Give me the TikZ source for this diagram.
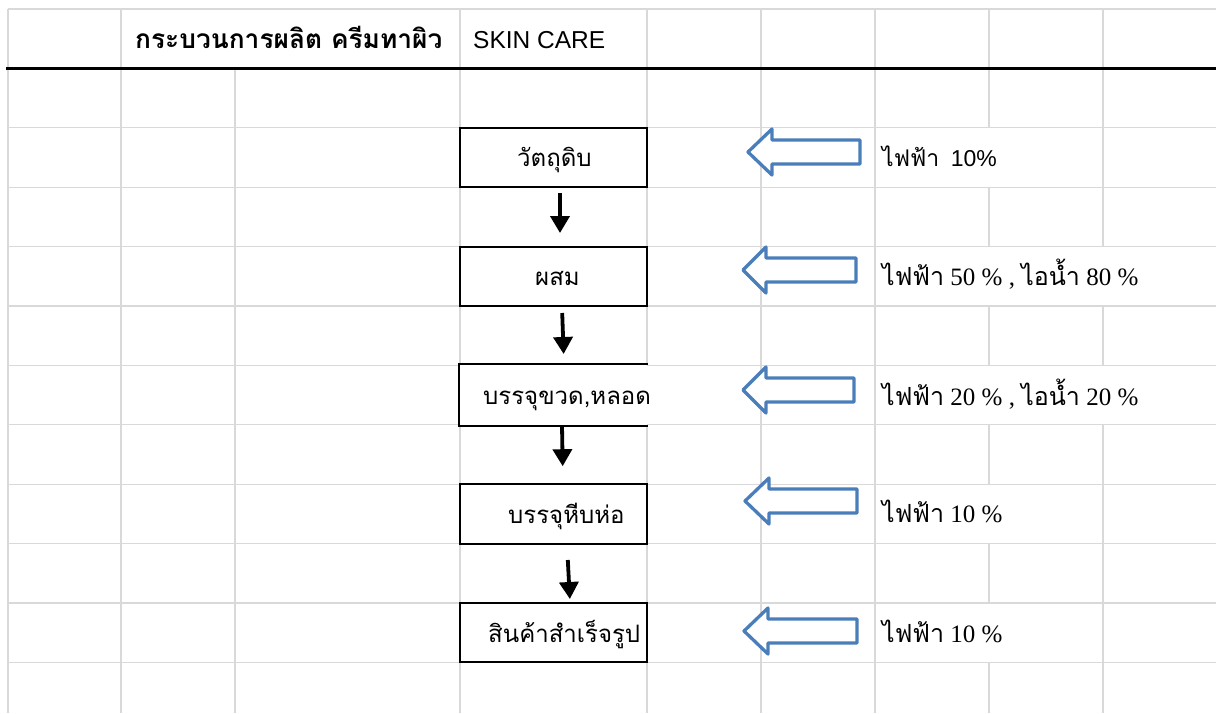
\documentclass[tikz,border=0pt]{standalone}
\usepackage{fontspec}
\setmainfont{Liberation Serif}
\newfontfamily\thai[Script=Thai]{Loma}
\newfontfamily\arial{Liberation Sans}
\usetikzlibrary{arrows.meta}
\definecolor{gridc}{HTML}{D9D9D9}
\definecolor{oblue}{HTML}{4A7EBB}
\tikzset{
  gridline/.style={draw=gridc, line width=1.3pt},
  boxnode/.style={draw, line width=2pt, fill=white, minimum width=187pt, minimum height=59.4pt, inner sep=0pt},
  boxtext/.style={anchor=base west, inner sep=0pt, font=\thai\fontsize{24}{24}\selectfont},
  lbl/.style={anchor=base west, inner sep=0pt, font=\fontsize{25}{25}\selectfont},
  flow/.style={line width=3.8pt, -{Triangle[width=19pt,length=17pt]}},
  barrow/.style={draw=oblue, fill=white, line width=3.3pt, line join=round},
}
\begin{document}
\begin{tikzpicture}[x=1pt,y=-1pt]
\fill[white] (0,0) rectangle (1216,713);
\useasboundingbox (0,0) rectangle (1216,713);
% horizontal grid lines
\foreach \k in {0,...,11} \draw[gridline] (8,{9+59.4*\k}) -- (1216,{9+59.4*\k});
% vertical grid lines, row by row
\foreach \k/\cols in {
  0/{8,121,460,647,761,875,989,1103},
  1/{8,121,235,460,647,761,875,989,1103},
  2/{8,121,235,761,875,1103},
  3/{8,121,235,460,647,761,875,989,1103},
  4/{8,121,235,761,875},
  5/{8,121,235,460,647,761,875,989,1103},
  6/{8,121,235,761,875},
  7/{8,121,235,460,647,761,875,989,1103},
  8/{8,121,235,761,875,1103},
  9/{8,121,235,460,647,761,875,989,1103},
  10/{8,121,235,761,875,1103},
  11/{8,121,235,460,647,761,875,989,1103}} {
  \foreach \c in \cols
    \draw[gridline] (\c,{9+59.4*\k}) -- (\c,{min(9+59.4*(\k+1),713)});
}
% header rule
\draw[line width=2.5pt] (6,68.4) -- (1216,68.4);
% header texts
\node[anchor=base west, inner sep=0pt, font=\thai\bfseries\fontsize{26.3}{26.3}\selectfont] (title) at (135,48) {กระบวนการผลิต ครีมทาผิว};
\node[anchor=base west, inner sep=0pt, font=\arial\fontsize{24.5}{24.5}\selectfont] (sub) at (473,48) {SKIN CARE};
% process boxes
\node[boxnode] (b1) at (553.5,157.5) {};
\node[boxnode] (b2) at (553.5,276.3) {};
\node[boxnode, draw=none] (b3) at (553.5,395.1) {};
\draw[line width=2pt] (b3.north east) -- (b3.north west) -- (b3.south west) -- (b3.south east);
\node[boxnode] (b4) at (553.5,513.9) {};
\node[boxnode] (b5) at (553.5,632.7) {};
\node[boxtext] (t1) at (517,166) {วัตถุดิบ};
\node[boxtext] (t2) at (535,285) {ผสม};
\node[boxtext] (t3) at (483,404) {บรรจุขวด,หลอด};
\node[boxtext] (t4) at (508,523) {บรรจุหีบห่อ};
\node[boxtext] (t5) at (488,642) {สินค้าสำเร็จรูป};
% flow arrows
\draw[flow, shorten <=5pt, shorten >=12.6pt] ([xshift=6.5pt]b1.south) -- ([xshift=6.5pt]b2.north);
\draw[flow, shorten <=6pt, shorten >=10.4pt] ([xshift=8.5pt]b2.south) -- ([xshift=10.5pt]b3.north);
\draw[flow, shorten <=1.2pt, shorten >=17pt] ([xshift=8.5pt]b3.south) -- ([xshift=9.5pt]b4.north);
\draw[flow, shorten <=15.4pt, shorten >=3pt] ([xshift=13.5pt]b4.south) -- ([xshift=16.5pt]b5.north);
% energy arrows (block arrows)
\foreach \tip/\cy/\hb/\rx in {748/152/772/860, 743/270/766/856, 743/390/766/854, 745/501/769/857, 744/631/768/857}
  \draw[barrow] (\tip,\cy) -- (\hb,\cy-23) -- (\hb,\cy-12) -- (\rx,\cy-12) -- (\rx,\cy+12) -- (\hb,\cy+12) -- (\hb,\cy+23) -- cycle;
% energy labels
\node[anchor=base west, inner sep=0pt, font=\fontsize{23}{23}\selectfont] (l1) at (882,166) {{\thai ไฟฟ้า}\ \ {\arial 10\%}};
\node[lbl] (l2) at (882,285) {{\thai ไฟฟ้า} 50 \% , {\thai ไอน้ำ} 80 \%};
\node[lbl] (l3) at (882,405) {{\thai ไฟฟ้า} 20 \% , {\thai ไอน้ำ} 20 \%};
\node[lbl] (l4) at (882,522) {{\thai ไฟฟ้า} 10 \%};
\node[lbl] (l5) at (882,642) {{\thai ไฟฟ้า} 10 \%};
\end{tikzpicture}
\end{document}
